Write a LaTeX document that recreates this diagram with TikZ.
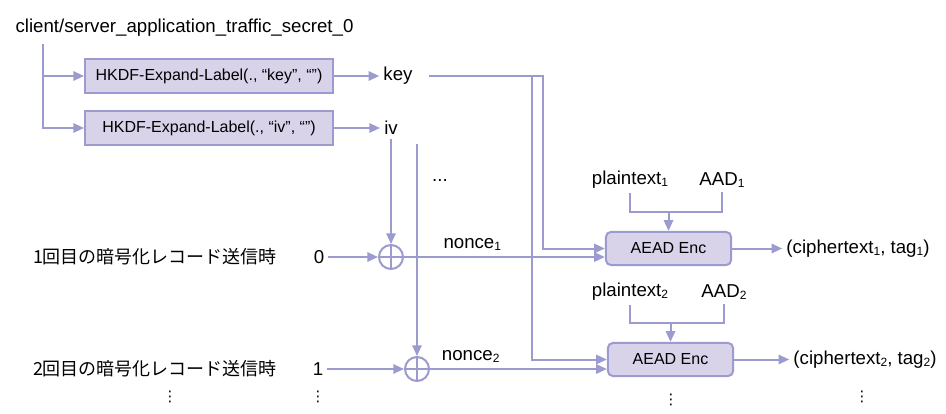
\documentclass[tikz,border=0pt]{standalone}
\usepackage{fontspec}
\setmainfont{Liberation Sans}
\newfontfamily\jpfont{Noto Sans CJK JP}
\newfontfamily\symfont{DejaVu Sans}
\usetikzlibrary{arrows.meta}
\definecolor{wirecol}{RGB}{155,155,208}
\definecolor{boxcol}{RGB}{217,211,234}
\newcommand{\lowsub}[1]{\raisebox{-0.2ex}{\fontsize{9}{9}\selectfont #1}}

\tikzstyle{lbl}=[font=\fontsize{14}{16}\selectfont, inner sep=3pt]
\tikzstyle{jlbl}=[font=\jpfont\fontsize{13.5}{16}\selectfont, inner sep=3pt]
\tikzstyle{more}=[font=\symfont\fontsize{11}{12}\selectfont, inner sep=1pt]
\tikzstyle{func}=[draw=wirecol, line width=1.5pt, fill=boxcol, minimum width=186pt, minimum height=25pt, font=\fontsize{12}{14}\selectfont]
\tikzstyle{enc}=[func, rounded corners=4pt, minimum width=94pt]
\tikzstyle{xor}=[draw=wirecol, line width=1.5pt, circle, minimum size=18pt, inner sep=0pt,
  path picture={\draw[wirecol, line width=1.5pt] (path picture bounding box.north) -- (path picture bounding box.south)
    (path picture bounding box.west) -- (path picture bounding box.east);}]
\tikzstyle{msg}=[-{Triangle[length=8pt, width=7pt]}, draw=wirecol, line width=1.5pt]
\tikzstyle{wire}=[draw=wirecol, line width=1.5pt]

\begin{document}
\begin{tikzpicture}[x=0.75pt, y=-0.75pt]
    \useasboundingbox (0, 0) rectangle (946, 414);
    \node[lbl] (secret) at (184.5, 28) {client/server\_application\_traffic\_secret\_0};
    \coordinate (trunk) at (43, 44);
    \node[func] (hkdfkey) at (209, 76) {HKDF-Expand-Label(., “key”, “”)};
    \node[func] (hkdfiv) at (209, 128) {HKDF-Expand-Label(., “iv”, “”)};
    \node[lbl] (key) at (398, 76) {key};
    \node[lbl] (iv) at (391, 128) {iv};
    \node[lbl] (ivdots) at (440, 180) {...};
    \coordinate (ivnext) at (417, 144);
    \coordinate (keycol1) at (543, 0);
    \coordinate (keycol2) at (532, 0);
    \node[jlbl] (rec1) at (155, 257) {1回目の暗号化レコード送信時};
    \node[jlbl] (rec2) at (155, 369) {2回目の暗号化レコード送信時};
    \node[lbl] (zero) at (319, 257) {0};
    \node[lbl] (one) at (318, 369) {1};
    \node[xor] (xor1) at (391, 257) {};
    \node[xor] (xor2) at (417, 369) {};
    \node[lbl] (plain1) at (630, 180) {plaintext\lowsub{1}};
    \node[lbl] (aad1) at (722, 180) {AAD\lowsub{1}};
    \node[lbl] (plain2) at (630, 292) {plaintext\lowsub{2}};
    \node[lbl] (aad2) at (724, 292) {AAD\lowsub{2}};
    \node[enc] (aead1) at (668.5, 248.5) {AEAD Enc};
    \node[enc] (aead2) at (670.5, 359.5) {AEAD Enc};
    \coordinate (merge1) at (668.5, 212);
    \coordinate (merge2) at (670.5, 323);
    \node[lbl] (cipher1) at (858, 248.5) {(ciphertext\lowsub{1}, tag\lowsub{1})};
    \node[lbl] (cipher2) at (865, 359.5) {(ciphertext\lowsub{2}, tag\lowsub{2})};
    \node[more] (vdots1) at (170, 397) {⋮};
    \node[more] (vdots2) at (318, 397) {⋮};
    \node[more] (vdots3) at (671, 400) {⋮};
    \node[more] (vdots4) at (862, 397) {⋮};
    \draw[msg] (trunk) |- (hkdfkey.west);
    \draw[msg] (trunk) |- (hkdfiv.west);
    \draw[msg] (hkdfkey) -- (key);
    \draw[msg] (hkdfiv) -- (iv);
    \draw[msg] (iv) -- (xor1);
    \draw[msg] (ivnext) -- (xor2);
    \draw[msg] (zero) -- (xor1);
    \draw[msg] (one) -- (xor2);
    \draw[msg, shorten <=9pt] (key.east) -| (keycol1 |- aead1.west) -- (aead1.west);
    \draw[msg, shorten <=9pt] (key.east) -| (keycol2 |- aead2.west) -- (aead2.west);
    \draw[msg] (xor1) -- (xor1 -| aead1.west) node[lbl, above=1pt, pos=0.34] {nonce\lowsub{1}};
    \draw[msg] (xor2) -- (xor2 -| aead2.west) node[lbl, above=1pt, pos=0.23] {nonce\lowsub{2}};
    \draw[wire] (plain1.south) |- (merge1) -| (aad1.south);
    \draw[wire] (plain2.south) |- (merge2) -| (aad2.south);
    \draw[msg] (merge1) -- (aead1);
    \draw[msg] (merge2) -- (aead2);
    \draw[msg] (aead1) -- (cipher1);
    \draw[msg] (aead2) -- (cipher2);
\end{tikzpicture}
\end{document}
